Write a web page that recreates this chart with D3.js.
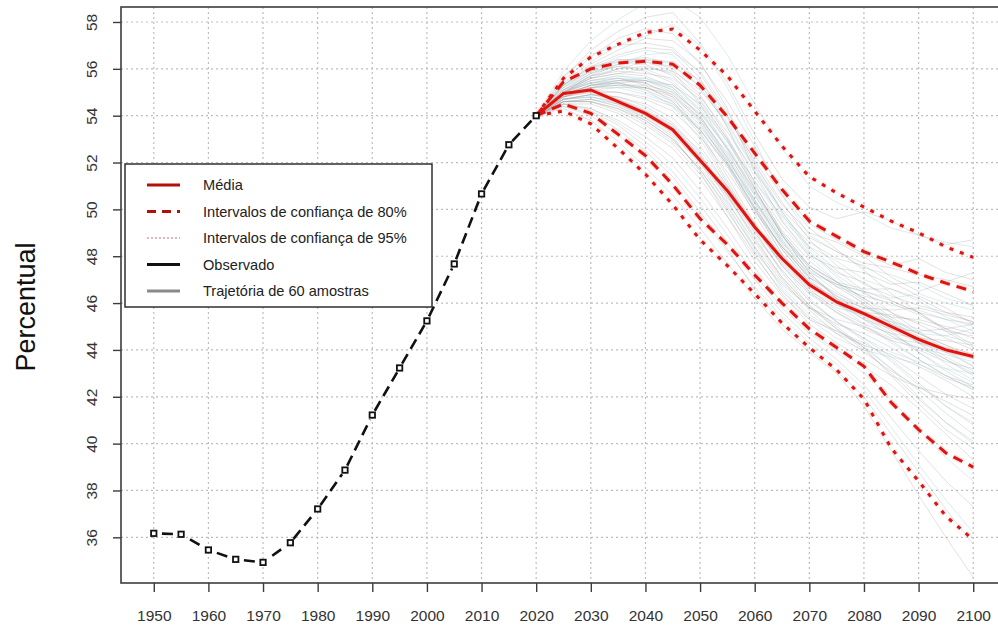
<!DOCTYPE html>
<html>
<head>
<meta charset="utf-8">
<script src="https://cdn.jsdelivr.net/npm/d3@7"></script>
<style>
  body { margin: 0; background: #fff; }
  text { font-family: "Liberation Sans", Arial, sans-serif; }
</style>
</head>
<body>
<div id="chart"></div>
<script>
// observed series
const obsYears = [1950, 1955, 1960, 1965, 1970, 1975, 1980, 1985, 1990, 1995, 2000, 2005, 2010, 2015, 2020]
const obsValues = [36.17, 36.13, 35.46, 35.06, 34.93, 35.77, 37.21, 38.87, 41.22, 43.23, 45.24, 47.67, 50.66, 52.76, 54.0]

// projection
const projYears = [2020, 2025, 2030, 2035, 2040, 2045, 2050, 2055, 2060, 2065, 2070, 2075, 2080, 2085, 2090, 2095, 2100]
const meanValues = [54.0, 54.95, 55.1, 54.6, 54.1, 53.4, 52.1, 50.8, 49.25, 47.9, 46.78, 46.05, 45.55, 45.0, 44.45, 44.0, 43.72]
const upper80 = [54.0, 55.45, 56.0, 56.25, 56.32, 56.2, 55.3, 53.95, 52.4, 50.85, 49.5, 48.85, 48.2, 47.75, 47.25, 46.85, 46.5]
const lower80 = [54.0, 54.5, 54.1, 53.2, 52.3, 51.05, 49.6, 48.5, 47.2, 46.0, 44.9, 44.1, 43.3, 41.75, 40.6, 39.6, 39.0]
const upper95 = [54.0, 55.6, 56.5, 57.05, 57.55, 57.7, 56.8, 55.7, 54.2, 52.7, 51.4, 50.7, 50.1, 49.5, 49.0, 48.4, 47.95]
const lower95 = [54.0, 54.2, 53.65, 52.6, 51.5, 50.2, 48.7, 47.6, 46.4, 45.15, 44.1, 43.15, 41.9, 39.8, 38.4, 36.9, 35.9]

// 60 sample trajectories, values for 2025..2100
const trajectories = [
  [55.9, 57.2, 58.1, 58.8, 59.0, 58.2, 56.6, 54.5, 52.6, 51.0, 50.3, 49.8, 49.2, 48.9, 48.6, 48.4],
  [55.6, 56.8, 57.6, 58.2, 58.4, 57.1, 55.4, 53.2, 51.3, 50.1, 49.6, 49.9, 49.5, 48.9, 48.5, 48.7],
  [55.5, 56.5, 57.3, 57.7, 57.5, 56.2, 54.6, 52.7, 50.8, 49.4, 48.7, 48.1, 47.6, 47.9, 47.3, 47.0],
  [55.4, 56.3, 57.0, 57.4, 57.9, 57.0, 55.2, 52.9, 50.6, 48.9, 48.2, 47.5, 47.2, 46.8, 46.2, 45.9],
  [55.7, 56.6, 57.0, 57.1, 56.9, 55.8, 54.0, 51.9, 50.2, 49.0, 48.6, 48.0, 47.1, 46.5, 46.9, 47.3],
  [55.3, 56.2, 56.8, 57.3, 57.2, 56.3, 54.3, 51.6, 49.5, 48.1, 47.3, 46.9, 46.1, 45.6, 44.9, 44.2],
  [55.4, 56.0, 56.5, 56.8, 56.6, 55.4, 53.5, 51.4, 49.6, 48.4, 47.8, 47.0, 46.6, 46.1, 45.4, 45.0],
  [55.2, 55.9, 56.4, 56.4, 56.0, 54.9, 53.1, 51.0, 49.3, 48.0, 47.5, 47.3, 46.8, 46.9, 46.4, 45.9],
  [55.3, 56.1, 56.3, 56.2, 55.7, 54.6, 53.0, 51.2, 49.7, 48.6, 47.9, 47.6, 46.9, 46.3, 45.8, 45.1],
  [55.1, 55.8, 56.2, 56.6, 56.7, 55.9, 54.2, 52.0, 49.9, 48.3, 47.2, 46.4, 45.9, 45.7, 45.3, 44.8],
  [55.0, 55.7, 56.0, 56.1, 55.8, 54.8, 53.3, 51.6, 50.0, 48.8, 48.2, 47.7, 47.5, 47.2, 47.0, 46.7],
  [55.3, 55.9, 56.1, 55.9, 55.4, 54.2, 52.6, 50.7, 49.0, 47.6, 46.9, 46.2, 45.4, 44.7, 44.2, 43.6],
  [55.2, 55.8, 56.3, 56.5, 56.2, 55.2, 53.6, 51.7, 49.8, 48.2, 47.1, 46.1, 45.2, 44.3, 43.4, 42.7],
  [55.0, 55.6, 56.0, 56.3, 56.1, 55.3, 53.9, 52.1, 50.3, 48.7, 47.6, 46.8, 46.3, 45.9, 45.6, 45.4],
  [55.1, 55.7, 55.9, 55.8, 55.6, 54.7, 53.0, 50.9, 48.9, 47.5, 46.7, 46.3, 46.0, 45.5, 44.9, 44.5],
  [55.2, 56.0, 56.4, 56.3, 55.9, 54.5, 52.5, 50.4, 48.6, 47.4, 46.8, 46.5, 46.2, 46.4, 46.0, 45.7],
  [55.0, 55.6, 55.8, 56.0, 55.9, 55.1, 53.7, 51.8, 49.9, 48.4, 47.4, 46.5, 45.6, 44.8, 44.0, 43.3],
  [55.3, 56.1, 56.6, 56.9, 56.8, 55.6, 53.5, 51.1, 49.0, 47.6, 46.9, 46.6, 46.6, 46.2, 45.6, 45.2],
  [55.1, 55.8, 56.1, 56.0, 55.5, 54.4, 52.9, 51.2, 49.5, 48.0, 46.9, 45.9, 45.1, 44.7, 44.6, 44.9],
  [55.0, 55.7, 56.2, 56.4, 56.3, 55.5, 54.0, 52.3, 50.6, 49.2, 48.3, 47.4, 46.4, 45.6, 44.8, 44.1],
  [54.9, 55.3, 55.4, 55.1, 54.6, 53.4, 51.8, 50.0, 48.4, 47.1, 46.4, 45.9, 45.3, 44.7, 44.2, 43.8],
  [55.0, 55.5, 55.7, 55.5, 55.0, 53.8, 52.0, 50.1, 48.3, 46.9, 46.1, 45.6, 45.2, 44.9, 44.6, 44.3],
  [54.8, 55.2, 55.3, 55.2, 54.9, 53.9, 52.4, 50.6, 48.9, 47.5, 46.7, 46.0, 45.1, 44.3, 43.6, 43.0],
  [55.0, 55.4, 55.5, 55.4, 54.8, 53.3, 51.4, 49.4, 47.7, 46.5, 45.9, 45.6, 45.5, 45.2, 44.8, 44.6],
  [54.9, 55.3, 55.5, 55.6, 55.3, 54.3, 52.7, 50.8, 48.9, 47.3, 46.2, 45.3, 44.6, 43.9, 43.2, 42.6],
  [54.8, 55.1, 55.0, 54.7, 54.2, 53.1, 51.6, 49.9, 48.4, 47.3, 46.8, 46.5, 46.1, 45.6, 45.3, 45.1],
  [55.0, 55.4, 55.6, 55.3, 54.6, 53.2, 51.2, 49.3, 47.6, 46.4, 45.6, 45.0, 44.5, 44.3, 44.1, 43.7],
  [54.9, 55.2, 55.2, 54.9, 54.5, 53.5, 52.1, 50.4, 48.8, 47.6, 46.8, 46.1, 45.3, 44.4, 43.7, 43.1],
  [55.1, 55.6, 55.8, 55.7, 55.2, 54.0, 52.2, 50.2, 48.3, 46.9, 46.2, 45.8, 45.7, 45.8, 45.5, 45.2],
  [54.8, 55.2, 55.4, 55.5, 55.3, 54.5, 52.9, 50.9, 48.9, 47.3, 46.2, 45.4, 44.7, 44.0, 43.5, 43.2],
  [54.9, 55.3, 55.3, 55.0, 54.5, 53.4, 51.9, 50.3, 48.7, 47.4, 46.5, 45.7, 44.9, 44.3, 43.9, 43.7],
  [55.0, 55.5, 55.6, 55.4, 54.9, 53.7, 51.9, 49.8, 47.9, 46.5, 45.6, 44.9, 44.4, 44.1, 43.6, 42.9],
  [54.8, 55.1, 55.2, 55.2, 54.8, 53.8, 52.2, 50.3, 48.5, 47.0, 46.0, 45.3, 44.9, 44.8, 44.9, 45.1],
  [55.0, 55.4, 55.4, 55.1, 54.4, 53.0, 51.1, 49.2, 47.6, 46.4, 45.8, 45.5, 45.2, 44.6, 43.9, 43.3],
  [54.9, 55.3, 55.5, 55.5, 55.1, 54.0, 52.3, 50.4, 48.6, 47.2, 46.3, 45.8, 45.4, 45.3, 45.0, 44.7],
  [54.8, 55.0, 55.0, 54.8, 54.4, 53.4, 51.9, 50.1, 48.4, 47.1, 46.3, 45.6, 44.8, 43.9, 43.1, 42.4],
  [55.0, 55.5, 55.7, 55.6, 55.1, 53.9, 52.1, 50.0, 48.1, 46.8, 46.0, 45.3, 44.6, 44.1, 43.8, 43.5],
  [54.9, 55.2, 55.3, 55.3, 55.0, 54.1, 52.6, 50.8, 49.1, 47.8, 46.9, 46.2, 45.6, 45.1, 44.5, 44.0],
  [54.9, 55.3, 55.4, 55.2, 54.7, 53.6, 52.0, 50.0, 48.1, 46.6, 45.7, 45.1, 44.7, 44.5, 44.4, 44.2],
  [55.0, 55.4, 55.6, 55.5, 55.2, 54.2, 52.6, 50.6, 48.7, 47.1, 46.0, 45.1, 44.3, 43.6, 42.9, 42.3],
  [54.7, 54.9, 54.7, 54.2, 53.5, 52.3, 50.7, 49.0, 47.4, 46.1, 45.2, 44.5, 43.7, 42.9, 42.1, 41.5],
  [54.6, 54.7, 54.4, 53.8, 53.0, 51.7, 50.1, 48.4, 46.9, 45.8, 45.1, 44.7, 44.1, 43.4, 42.8, 42.4],
  [54.7, 54.8, 54.6, 54.1, 53.4, 52.0, 50.2, 48.3, 46.7, 45.5, 44.8, 44.2, 43.2, 42.0, 40.9, 40.0],
  [54.6, 54.6, 54.2, 53.6, 52.8, 51.5, 49.9, 48.2, 46.8, 45.8, 45.3, 45.0, 44.4, 43.6, 42.9, 42.5],
  [54.7, 54.9, 54.8, 54.4, 53.7, 52.4, 50.6, 48.7, 47.1, 45.9, 45.0, 44.1, 42.9, 41.7, 40.6, 39.8],
  [54.6, 54.7, 54.4, 53.9, 53.2, 52.0, 50.5, 48.9, 47.4, 46.1, 45.2, 44.5, 43.9, 43.5, 43.2, 43.0],
  [54.7, 54.8, 54.5, 53.9, 53.1, 51.6, 49.7, 47.8, 46.3, 45.3, 44.8, 44.3, 43.6, 42.6, 41.6, 40.8],
  [54.6, 54.6, 54.3, 53.7, 52.9, 51.8, 50.3, 48.6, 47.0, 45.7, 44.7, 43.9, 43.1, 42.4, 41.8, 41.2],
  [54.7, 54.9, 54.7, 54.3, 53.6, 52.3, 50.4, 48.4, 46.6, 45.3, 44.5, 44.0, 43.7, 43.4, 42.9, 42.3],
  [54.6, 54.7, 54.5, 54.0, 53.3, 52.1, 50.6, 48.8, 47.1, 45.8, 44.9, 44.1, 43.2, 42.3, 41.3, 40.4],
  [54.5, 54.5, 54.1, 53.4, 52.6, 51.3, 49.7, 48.0, 46.5, 45.4, 44.7, 44.2, 43.8, 43.3, 42.7, 42.0],
  [54.7, 54.8, 54.6, 54.2, 53.6, 52.5, 51.0, 49.3, 47.6, 46.2, 45.2, 44.4, 43.5, 42.5, 41.6, 40.9],
  [54.6, 54.6, 54.3, 53.8, 53.0, 51.7, 50.0, 48.1, 46.4, 45.1, 44.3, 43.6, 42.9, 42.4, 42.1, 41.9],
  [54.7, 54.9, 54.8, 54.5, 53.9, 52.7, 51.0, 49.1, 47.3, 45.9, 44.9, 44.0, 43.0, 41.9, 40.9, 40.1],
  [54.4, 54.0, 53.2, 52.2, 51.1, 49.7, 48.2, 46.7, 45.4, 44.3, 43.4, 42.3, 40.7, 39.1, 37.6, 36.2],
  [54.5, 54.2, 53.6, 52.7, 51.6, 50.2, 48.6, 47.0, 45.6, 44.5, 43.6, 42.5, 41.1, 39.7, 38.4, 37.3],
  [54.3, 53.8, 52.9, 51.8, 50.6, 49.2, 47.7, 46.2, 44.9, 43.9, 43.0, 41.6, 39.7, 37.8, 36.0, 34.3],
  [54.5, 54.3, 53.7, 52.9, 51.9, 50.5, 48.9, 47.2, 45.8, 44.7, 43.9, 43.0, 41.9, 40.6, 39.4, 38.4],
  [54.4, 54.1, 53.4, 52.5, 51.4, 49.9, 48.3, 46.6, 45.1, 44.0, 43.1, 42.0, 40.4, 38.8, 37.2, 35.7],
  [54.5, 54.3, 53.8, 53.1, 52.2, 50.8, 49.2, 47.5, 46.0, 44.8, 44.0, 43.3, 42.5, 41.5, 40.4, 39.3]
]

const xTicks = [1950, 1960, 1970, 1980, 1990, 2000, 2010, 2020, 2030, 2040, 2050, 2060, 2070, 2080, 2090, 2100]
const yTicks = [36, 38, 40, 42, 44, 46, 48, 50, 52, 54, 56, 58]
const yLabel = "Percentual"
const legendLabels = ["Média", "Intervalos de confiança de 80%", "Intervalos de confiança de 95%", "Observado", "Trajetória de 60 amostras"]

const width = 998
const height = 625
const plotL = 121, plotR = 1006, plotT = 7, plotB = 583

const x = d3.scaleLinear().domain([1944, 2106]).range([plotL, plotR])
const y = d3.scaleLinear().domain([34.05, 58.64]).range([plotB, plotT])

const svg = d3.select("#chart").append("svg")
    .attr("width", width)
    .attr("height", height)

svg.append("rect").attr("width", width).attr("height", height).attr("fill", "#fff")

svg.append("defs").append("clipPath").attr("id", "plotclip")
    .append("rect")
    .attr("x", plotL).attr("y", plotT)
    .attr("width", plotR - plotL).attr("height", plotB - plotT)

// grid
const grid = svg.append("g")
grid.selectAll(".vgrid")
    .data(xTicks)
    .enter()
    .append("line")
    .attr("x1", d => x(d)).attr("x2", d => x(d))
    .attr("y1", plotT).attr("y2", plotB)
    .attr("stroke", "#bdbdbd").attr("stroke-width", 1.2)
    .attr("stroke-dasharray", "2,3")
grid.selectAll(".hgrid")
    .data(yTicks)
    .enter()
    .append("line")
    .attr("x1", plotL).attr("x2", plotR)
    .attr("y1", d => y(d)).attr("y2", d => y(d))
    .attr("stroke", "#bdbdbd").attr("stroke-width", 1.2)
    .attr("stroke-dasharray", "2,3")

const plot = svg.append("g").attr("clip-path", "url(#plotclip)")
const line = d3.line().x(d => x(d[0])).y(d => y(d[1]))
const startValue = obsValues[obsValues.length - 1]

// sample trajectories
plot.append("g")
    .selectAll("path")
    .data(trajectories)
    .enter()
    .append("path")
    .attr("d", t => line(projYears.map((yr, i) => [yr, i === 0 ? startValue : t[i - 1]])))
    .attr("fill", "none")
    .attr("stroke", (d, i) => i % 3 === 0 ? "#a9d0d6" : "#8e8e8e")
    .attr("stroke-opacity", (d, i) => i % 3 === 0 ? 0.4 : 0.26)
    .attr("stroke-width", 1)

const red = "#e0140f"
const bands = [
  { values: upper95, dash: "4,7", w: 3 },
  { values: lower95, dash: "4,7", w: 3 },
  { values: upper80, dash: "10,7", w: 3 },
  { values: lower80, dash: "10,7", w: 3 },
  { values: meanValues, dash: null, w: 3 }
]
// soft halo under red lines
plot.append("g")
    .selectAll("path")
    .data(bands)
    .enter()
    .append("path")
    .attr("d", b => line(projYears.map((yr, i) => [yr, b.values[i]])))
    .attr("fill", "none")
    .attr("stroke", "#f6a9a9")
    .attr("stroke-opacity", 0.3)
    .attr("stroke-width", b => b.w + 3)
    .attr("stroke-dasharray", b => b.dash)

plot.append("g")
    .selectAll("path")
    .data(bands)
    .enter()
    .append("path")
    .attr("d", b => line(projYears.map((yr, i) => [yr, b.values[i]])))
    .attr("fill", "none")
    .attr("stroke", red)
    .attr("stroke-width", b => b.w)
    .attr("stroke-dasharray", b => b.dash)

// observed: dashed segments between points, with open squares
const obsPts = obsYears.map((yr, i) => [x(yr), y(obsValues[i])])
const gap = 5
const segs = obsPts.slice(1).map((p, i) => {
  const a = obsPts[i]
  const dx = p[0] - a[0], dy = p[1] - a[1]
  const len = Math.hypot(dx, dy)
  const ux = dx / len, uy = dy / len
  return { x1: a[0] + ux * gap, y1: a[1] + uy * gap, x2: p[0] - ux * gap, y2: p[1] - uy * gap, len: len - 2 * gap }
})
svg.append("g")
    .selectAll("line")
    .data(segs)
    .enter()
    .append("line")
    .attr("x1", d => d.x1).attr("y1", d => d.y1)
    .attr("x2", d => d.x2).attr("y2", d => d.y2)
    .attr("stroke", "#111")
    .attr("stroke-width", 2.6)
    .attr("stroke-dasharray", d => d.len < 24 ? `0,${(d.len - 11) / 2},11,100` : "11,6")
svg.append("g")
    .selectAll("rect")
    .data(obsPts)
    .enter()
    .append("rect")
    .attr("x", d => d[0] - 2.7).attr("y", d => d[1] - 2.7)
    .attr("width", 5.4).attr("height", 5.4)
    .attr("fill", "#fff")
    .attr("stroke", "#111")
    .attr("stroke-width", 1.8)

// axes
const axisColor = "#3c3c3c"
const yAxis = svg.append("g")
    .attr("transform", `translate(${plotL},0)`)
    .call(d3.axisLeft(y).tickValues(yTicks).tickSize(8).tickFormat(d3.format("d")))
yAxis.select(".domain").remove()
yAxis.selectAll("line").attr("stroke", axisColor).attr("stroke-width", 1.4)
yAxis.selectAll("text")
    .attr("x", null).attr("dy", null)
    .attr("text-anchor", "middle")
    .attr("transform", "translate(-24.5,0) rotate(-90)")
    .attr("font-size", 15.5)
    .attr("fill", "#333")

const xAxis = svg.append("g")
    .attr("transform", `translate(0,${plotB})`)
    .call(d3.axisBottom(x).tickValues(xTicks).tickSize(9).tickFormat(d3.format("d")))
xAxis.select(".domain").remove()
xAxis.selectAll("line").attr("stroke", axisColor).attr("stroke-width", 1.4)
xAxis.selectAll("text")
    .attr("y", 37.5).attr("dy", null)
    .attr("font-size", 15.5)
    .attr("fill", "#333")

// box
svg.append("rect")
    .attr("x", plotL).attr("y", plotT)
    .attr("width", plotR - plotL).attr("height", plotB - plotT)
    .attr("fill", "none")
    .attr("stroke", axisColor)
    .attr("stroke-width", 1.6)

svg.append("text")
    .attr("transform", "translate(35,307) rotate(-90)")
    .attr("text-anchor", "middle")
    .attr("font-size", 27)
    .attr("fill", "#111")
    .text(yLabel)

// legend
const legendStyles = [
  { color: "#b3100c", w: 3, dash: null },
  { color: "#b3100c", w: 3, dash: "9,6" },
  { color: "#d86a6a", w: 1.2, dash: "2,2" },
  { color: "#111", w: 2.8, dash: null },
  { color: "#8a8a8a", w: 2.8, dash: null }
]
const legend = svg.append("g")
legend.append("rect")
    .attr("x", 125).attr("y", 164)
    .attr("width", 307).attr("height", 143)
    .attr("fill", "#fff")
    .attr("stroke", "#222")
    .attr("stroke-width", 1.4)
const entries = legend.selectAll(".entry")
    .data(legendLabels)
    .enter()
    .append("g")
    .attr("transform", (d, i) => `translate(0,${185 + i * 26.5})`)
entries.append("line")
    .attr("x1", 147).attr("x2", 180)
    .attr("stroke", (d, i) => legendStyles[i].color)
    .attr("stroke-width", (d, i) => legendStyles[i].w)
    .attr("stroke-dasharray", (d, i) => legendStyles[i].dash)
entries.append("text")
    .attr("x", 203)
    .attr("dy", "0.35em")
    .attr("font-size", 14.6)
    .attr("fill", "#222")
    .text(d => d)
</script>
</body>
</html>
